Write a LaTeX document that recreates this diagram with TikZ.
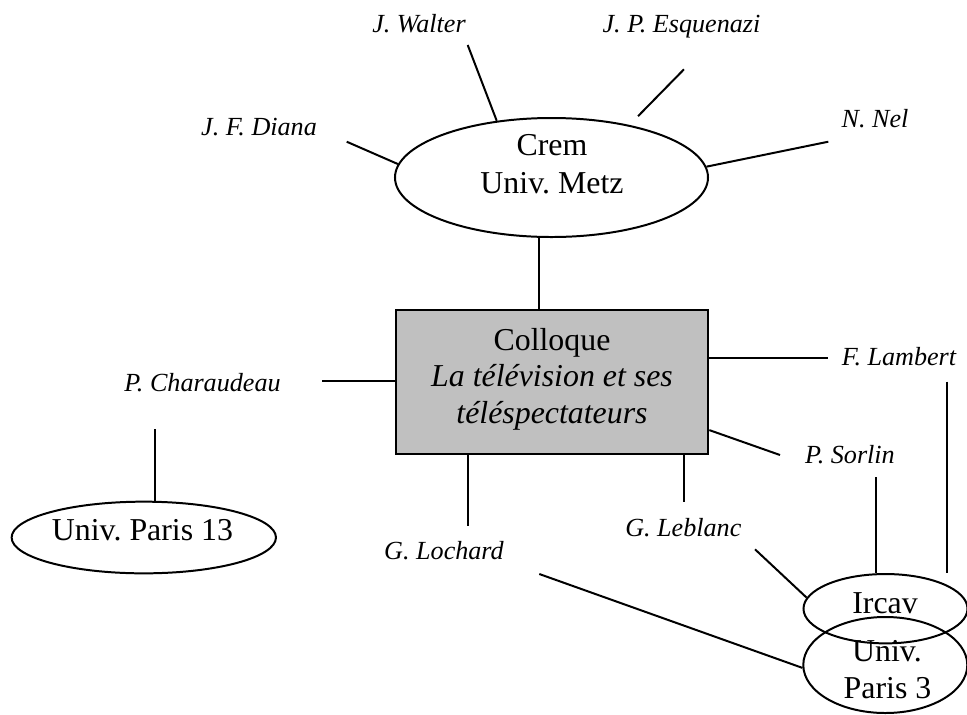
\documentclass[tikz,border=0pt]{standalone}
\usepackage{fontspec}
\setmainfont{Liberation Serif}
\usepackage{xcolor}
\usepackage{tikz}
\usetikzlibrary{shapes.geometric,calc}

\definecolor{boxgray}{RGB}{192,192,192}
\frenchspacing

\begin{document}
\begin{tikzpicture}[
    x=0.03cm, y=-0.03cm,
    org/.style={ellipse, draw=black, line width=1.7pt, inner sep=0pt},
    txt/.style={font=\fontsize{27.2}{32}\selectfont, inner sep=0pt, anchor=base},
    lbl/.style={font=\fontsize{22.3}{27}\selectfont\itshape, inner sep=0pt, anchor=base},
    link/.style={line width=1.7pt, black}
]
    \useasboundingbox (0,0) rectangle (967,714);

    % shapes
    \node[org, minimum width=9.39cm, minimum height=3.57cm] (crem) at (551.5,177.5) {};
    \node[rectangle, draw=black, fill=boxgray, line width=1.7pt, minimum width=9.38cm, minimum height=4.32cm] (colloque) at (552,382) {};
    \node[org, minimum width=7.93cm, minimum height=2.15cm] (paris13) at (143.8,537.5) {};
    \node[org, minimum width=4.92cm, minimum height=2.08cm] (ircav) at (885.5,608.7) {};
    \node[org, minimum width=4.92cm, minimum height=2.88cm] (paris3) at (885.3,665) {};

    \node[txt] (crem1) at (552,155) {Crem};
    \node[txt] (crem2) at (552,193) {Univ. Metz};
    \node[txt] (coll1) at (552,350) {Colloque};
    \node[txt, font=\fontsize{27.2}{32}\selectfont\itshape] (coll2) at (552,386) {La télévision et ses};
    \node[txt, font=\fontsize{27.2}{32}\selectfont\itshape] (coll3) at (552,423) {téléspectateurs};
    \node[txt] (p13) at (142.5,540) {Univ. Paris 13};
    \node[txt] (irc) at (885,613.3) {Ircav};
    \node[txt] (p3a) at (887,661.7) {Univ.};
    \node[txt] (p3b) at (887.5,698.3) {Paris 3};

    % people
    \node[lbl] (walter) at (419,32) {J. Walter};
    \node[lbl] (esquenazi) at (681.5,32) {J. P. Esquenazi};
    \node[lbl] (diana) at (259,135) {J. F. Diana};
    \node[lbl] (nel) at (875,127.3) {N. Nel};
    \node[lbl] (charaudeau) at (202.5,391.7) {P. Charaudeau};
    \node[lbl] (lambert) at (899,365) {F. Lambert};
    \node[lbl] (sorlin) at (850,463) {P. Sorlin};
    \node[lbl] (leblanc) at (683.3,536) {G. Leblanc};
    \node[lbl] (lochard) at (444,559.3) {G. Lochard};

    % line ends
    \coordinate (wa) at (467.7,45);
    \coordinate (es) at (684,69.3);
    \coordinate (di) at (346.7,141.7);
    \coordinate (ne) at (828.3,141.7);
    \coordinate (ch) at (322,381);
    \coordinate (ch2) at (155,429.3);
    \coordinate (la) at (828.3,358);
    \coordinate (la2) at (947.3,381.7);
    \coordinate (so) at (780,455);
    \coordinate (so2) at (875.7,477.3);
    \coordinate (le) at (684,501.7);
    \coordinate (le2) at (755,549.3);
    \coordinate (lo) at (467.7,526);
    \coordinate (lo2) at (539.3,574);

    \draw[link] (wa) -- (crem.134.5);
    \draw[link, shorten >=0.37cm] (es) -- (crem.34.3);
    \draw[link] (di) -- (crem.175.4);
    \draw[link] (ne) -- (crem.4.2);
    \draw[link] (crem.258) -- (crem.258 |- colloque.north);
    \draw[link] (ch) -- (ch -| colloque.west);
    \draw[link] (colloque.east |- la) -- (la);
    \draw[link] (colloque.-17) -- (so);
    \draw[link] (lo |- colloque.south) -- (lo);
    \draw[link] (le |- colloque.south) -- (le);
    \draw[link] (ch2) -- (ch2 |- paris13.north);
    \draw[link] (la2) -- (la2 |- ircav.north);
    \draw[link] (so2) -- (so2 |- ircav.north);
    \draw[link] (le2) -- (ircav.172.7);
    \draw[link] (lo2) -- (paris3.182.3);
\end{tikzpicture}
\end{document}
